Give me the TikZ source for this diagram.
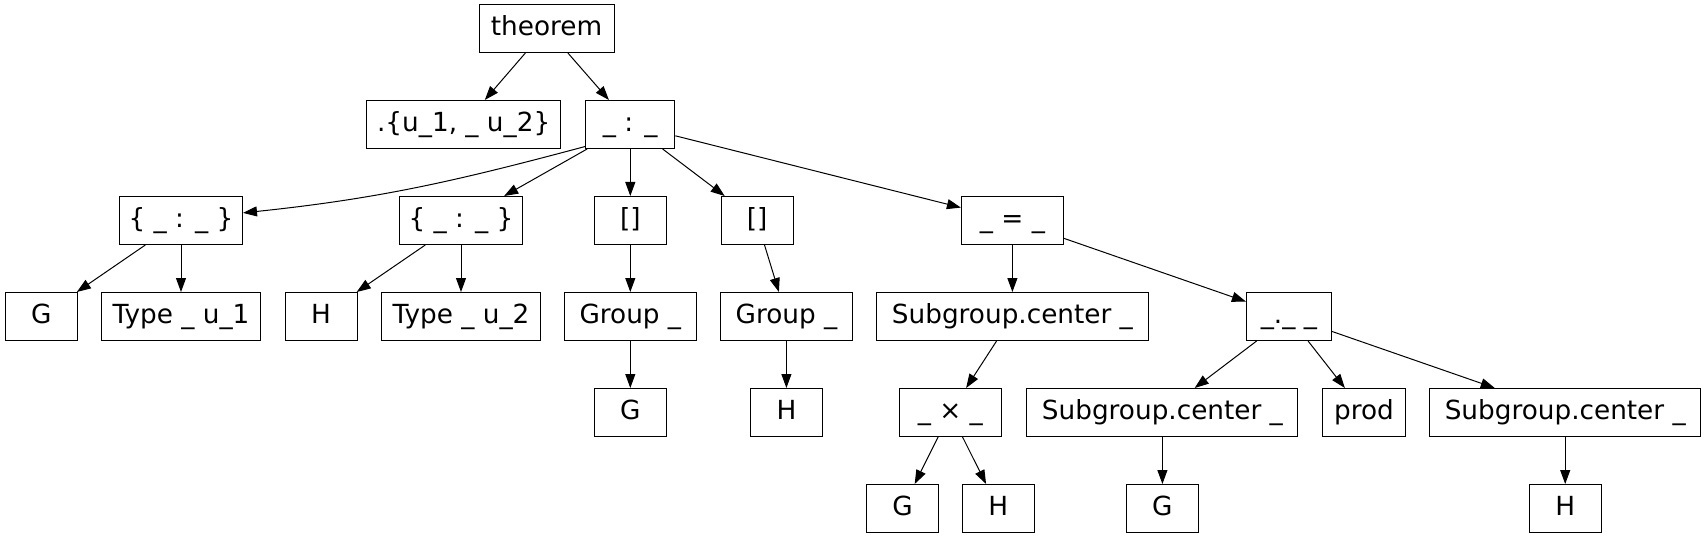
\documentclass[tikz,border=0pt]{standalone}
\usepackage{fontspec}
\setmainfont{DejaVu Sans}
\usetikzlibrary{arrows.meta}
\begin{document}
\begin{tikzpicture}[x=1pt,y=1pt,
  box/.style={draw, line width=1pt, minimum height=48pt, inner sep=0pt,
    text height=18.5pt, text depth=3.7pt, font=\fontsize{26.3}{31}\selectfont},
  edge/.style={line width=1pt, -{Triangle[length=14pt,width=10pt]}}]
\useasboundingbox (0,0) rectangle (1707,539);
% row y: 510.5, 414.5, 318.5, 222.5, 126.5, 30.5
\node[box, minimum width=135pt] (thm) at (546.5,510.5) {theorem};
\node[box, minimum width=194pt] (set) at (463.7,414.5) {.\{u\_1, \_ u\_2\}};
\node[box, minimum width=89pt] (colon) at (630.3,414.5) {\_ : \_};
\node[box, minimum width=123pt] (b1) at (181,318.5) {\{ \_ : \_ \}};
\node[box, minimum width=123pt] (b2) at (461,318.5) {\{ \_ : \_ \}};
\node[box, minimum width=72pt] (l1) at (630.3,318.5) {[]};
\node[box, minimum width=72pt] (l2) at (757,318.5) {[]};
\node[box, minimum width=102pt] (eq) at (1012.4,318.5) {\_ = \_};
\node[box, minimum width=72pt] (g1) at (41.2,222.5) {G};
\node[box, minimum width=159pt] (t1) at (181,222.5) {Type \_ u\_1};
\node[box, minimum width=72pt] (h1) at (321,222.5) {H};
\node[box, minimum width=159pt] (t2) at (461,222.5) {Type \_ u\_2};
\node[box, minimum width=132pt] (gr1) at (630.3,222.5) {Group \_};
\node[box, minimum width=132pt] (gr2) at (786.4,222.5) {Group \_};
\node[box, minimum width=272pt] (sc1) at (1012.4,222.5) {Subgroup.center \_};
\node[box, minimum width=85pt] (dot) at (1288.9,222.5) {\_.\_ \_};
\node[box, minimum width=72pt] (g2) at (630.3,126.5) {G};
\node[box, minimum width=72pt] (h2) at (786.4,126.5) {H};
\node[box, minimum width=102pt] (times) at (950.3,126.5) {\_ × \_};
\node[box, minimum width=271pt] (sc2) at (1162.4,126.5) {Subgroup.center \_};
\node[box, minimum width=83pt] (prod) at (1364,126.5) {prod};
\node[box, minimum width=271pt] (sc3) at (1565.2,126.5) {Subgroup.center \_};
\node[box, minimum width=72pt] (g3) at (902.5,30.5) {G};
\node[box, minimum width=72pt] (h3) at (998.3,30.5) {H};
\node[box, minimum width=72pt] (g4) at (1162.4,30.5) {G};
\node[box, minimum width=72pt] (h4) at (1565.2,30.5) {H};
% edges
\draw[edge] (thm) -- (set);
\draw[edge] (thm) -- (colon);
\draw[edge] (colon.206) to[out=195,in=6] (b1.7);
\draw[edge] (colon) -- (b2);
\draw[edge] (colon) -- (l1);
\draw[edge] (colon) -- (l2);
\draw[edge] (colon) -- (eq);
\draw[edge] (b1) -- (g1);
\draw[edge] (b1) -- (t1);
\draw[edge] (b2) -- (h1);
\draw[edge] (b2) -- (t2);
\draw[edge] (l1) -- (gr1);
\draw[edge] (l2) -- (gr2);
\draw[edge] (eq) -- (sc1);
\draw[edge] (eq) -- (dot);
\draw[edge] (gr1) -- (g2);
\draw[edge] (gr2) -- (h2);
\draw[edge] (sc1) -- (times);
\draw[edge] (dot) -- (sc2);
\draw[edge] (dot) -- (prod);
\draw[edge] (dot) -- (sc3);
\draw[edge] (times) -- (g3);
\draw[edge] (times) -- (h3);
\draw[edge] (sc2) -- (g4);
\draw[edge] (sc3) -- (h4);
\end{tikzpicture}
\end{document}
